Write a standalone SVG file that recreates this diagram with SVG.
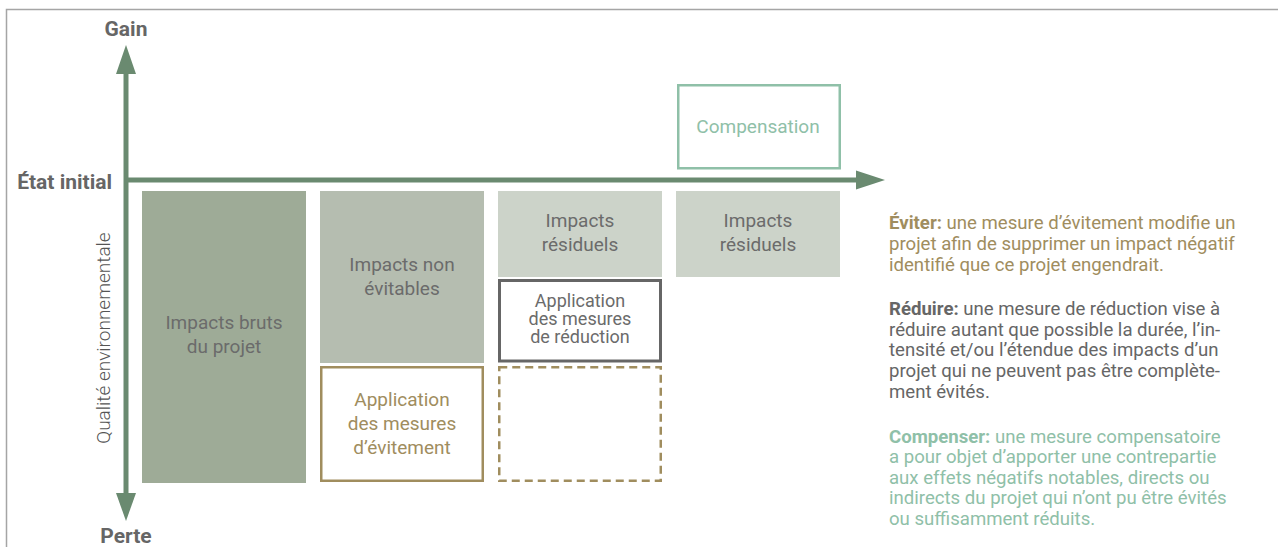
<svg xmlns="http://www.w3.org/2000/svg" width="1278" height="547" viewBox="0 0 1278 547">
<style>
.lbl{font-family:Roboto,"Liberation Sans",sans-serif;font-weight:700;font-size:21px;fill:#666}
.bt{font-family:Roboto,"Liberation Sans",sans-serif;font-size:19px;fill:#6b6b6b;text-anchor:middle}
.desc{font-family:Roboto,"Liberation Sans",sans-serif;font-size:18.6px}
.axis{stroke:#6a8a70;stroke-width:5;fill:none}
</style>
<rect width="1278" height="547" fill="#fff"/>
<path d="M6.5,547 V9.5 H1278" fill="none" stroke="#a5a5a5" stroke-width="1.5"/>
<g id="connectors">
<path class="axis" d="M126,180 V74"/>
<path d="M116,74 L126,45 L136,74 Z" fill="#6a8a70"/>
<path class="axis" d="M126,180 V493"/>
<path d="M116,493 L126,521 L136,493 Z" fill="#6a8a70"/>
<path class="axis" d="M124,180 H857"/>
<path d="M856,170.5 L885,180 L856,189.5 Z" fill="#6a8a70"/>
</g>
<g id="labels">
<text class="lbl" x="126" y="36" text-anchor="middle">Gain</text>
<text class="lbl" x="112" y="189" text-anchor="end">État initial</text>
<text class="lbl" x="126" y="543" text-anchor="middle">Perte</text>
<text x="0" y="0" transform="translate(110,338) rotate(-90)" text-anchor="middle" style="font-family:Roboto,'Liberation Sans',sans-serif;font-size:19px;font-weight:300;fill:#555">Qualité environnementale</text>
</g>
<g id="impacts-bruts">
<rect x="142" y="191" width="164" height="292" fill="#9eab97"/>
<text class="bt" x="224" y="329">Impacts bruts</text>
<text class="bt" x="224" y="353">du projet</text>
</g>
<g id="impacts-non-evitables">
<rect x="320" y="191" width="164" height="172" fill="#b5bdb0"/>
<text class="bt" x="402" y="271">Impacts non</text>
<text class="bt" x="402" y="295">évitables</text>
</g>
<g id="application-evitement">
<rect x="321.25" y="367.25" width="161.5" height="113.5" fill="#fff" stroke="#a08d5e" stroke-width="2.5"/>
<text class="bt" x="402" y="406" style="fill:#a08d5e">Application</text>
<text class="bt" x="402" y="430" style="fill:#a08d5e">des mesures</text>
<text class="bt" x="402" y="454" style="fill:#a08d5e">d’évitement</text>
</g>
<g id="impacts-residuels-1">
<rect x="498" y="191" width="164" height="86" fill="#ccd3c9"/>
<text class="bt" x="580" y="227">Impacts</text>
<text class="bt" x="580" y="251">résiduels</text>
</g>
<g id="application-reduction">
<rect x="499.5" y="280.5" width="161" height="80.5" fill="#fff" stroke="#666" stroke-width="3"/>
<text class="bt" x="580" y="307" style="font-size:18px">Application</text>
<text class="bt" x="580" y="325" style="font-size:18px">des mesures</text>
<text class="bt" x="580" y="343" style="font-size:18px">de réduction</text>
</g>
<g id="reduction-dashed">
<rect x="499.25" y="367.25" width="161.5" height="113.5" fill="none" stroke="#a08d5e" stroke-width="2.5" stroke-dasharray="8,5"/>
</g>
<g id="impacts-residuels-2">
<rect x="676" y="191" width="164" height="86" fill="#ccd3c9"/>
<text class="bt" x="758" y="227">Impacts</text>
<text class="bt" x="758" y="251">résiduels</text>
</g>
<g id="compensation">
<rect x="678.25" y="85.25" width="161.5" height="83" fill="#fff" stroke="#8fc0a8" stroke-width="2.5"/>
<text class="bt" x="758" y="133" style="fill:#8fc0a8">Compensation</text>
</g>
<g id="definitions">
<text class="desc" style="fill:#a08d5e">
<tspan x="889" y="229"><tspan font-weight="700">Éviter:</tspan> une mesure d’évitement modifie un</tspan>
<tspan x="889" y="250">projet afin de supprimer un impact négatif</tspan>
<tspan x="889" y="271">identifié que ce projet engendrait.</tspan>
</text>
<text class="desc" style="fill:#666">
<tspan x="889" y="315"><tspan font-weight="700">Réduire:</tspan> une mesure de réduction vise à</tspan>
<tspan x="889" y="336">réduire autant que possible la durée, l’in-</tspan>
<tspan x="889" y="356">tensité et/ou l’étendue des impacts d’un</tspan>
<tspan x="889" y="377">projet qui ne peuvent pas être complète-</tspan>
<tspan x="889" y="398">ment évités.</tspan>
</text>
<text class="desc" style="fill:#8fc0a8">
<tspan x="889" y="443"><tspan font-weight="700">Compenser:</tspan> une mesure compensatoire</tspan>
<tspan x="889" y="463">a pour objet d’apporter une contrepartie</tspan>
<tspan x="889" y="484">aux effets négatifs notables, directs ou</tspan>
<tspan x="889" y="504">indirects du projet qui n’ont pu être évités</tspan>
<tspan x="889" y="525">ou suffisamment réduits.</tspan>
</text>
</g>
</svg>
